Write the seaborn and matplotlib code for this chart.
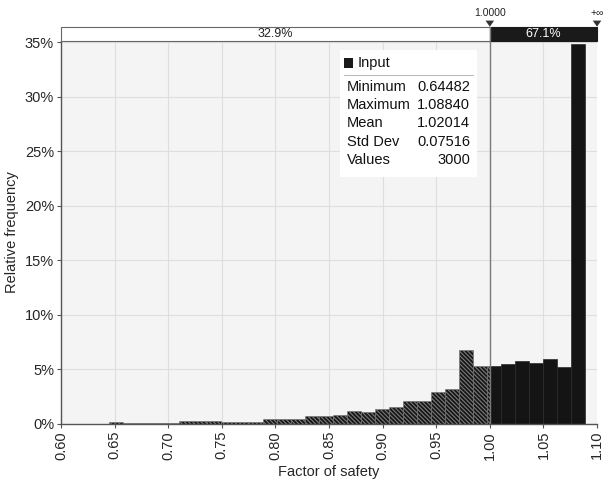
import numpy as np
import pandas as pd
import seaborn as sns
import matplotlib.pyplot as plt
from matplotlib.patches import Rectangle, Polygon
from matplotlib.ticker import PercentFormatter, MultipleLocator
import matplotlib.transforms as mtransforms

# Summary statistics of the simulated factor of safety
stat_names = ["Minimum", "Maximum", "Mean", "Std Dev", "Values"]
stat_values = ["0.64482", "1.08840", "1.02014", "0.07516", "3000"]
x_min, x_max = 0.64482, 1.08840
n_bins = 34
threshold = 1.0
share_labels = ["32.9%", "67.1%"]

# Relative frequency (%) of each histogram bin, low to high
rel_freq = [0.18, 0.09, 0.09, 0.09, 0.12, 0.31, 0.25, 0.25, 0.22, 0.15,
            0.15, 0.43, 0.43, 0.49, 0.73, 0.73, 0.82, 1.19, 1.13, 1.37,
            1.56, 2.14, 2.08, 2.93, 3.21, 6.75, 5.32, 5.30, 5.53, 5.81,
            5.59, 5.93, 5.26, 34.84]

x_ticks = [0.60, 0.65, 0.70, 0.75, 0.80, 0.85, 0.90, 0.95, 1.00, 1.05, 1.10]

# Bin edges, with the bin containing the threshold split in two
edges = np.linspace(x_min, x_max, n_bins + 1)
rows = []
for lo, hi, h in zip(edges[:-1], edges[1:], rel_freq):
    if lo < threshold < hi:
        rows.append((lo, threshold, h))
        rows.append((threshold, hi, h))
    else:
        rows.append((lo, hi, h))
bins = pd.DataFrame(rows, columns=["lo", "hi", "freq"])
bins["mid"] = (bins["lo"] + bins["hi"]) / 2
below = bins[bins["hi"] <= threshold]
above = bins[bins["lo"] >= threshold]

sns.set_style("white")
plt.rcParams["font.family"] = ["Liberation Sans", "DejaVu Sans"]
plt.rcParams["hatch.linewidth"] = 0.8

fig = plt.figure(figsize=(6.06, 4.83), dpi=100)
ax = fig.add_axes([0.1007, 0.1222, 0.8845, 0.7935])
ax.set_facecolor("#f4f4f4")

sns.histplot(x=below["mid"], weights=below["freq"],
             bins=list(below["lo"]) + [below["hi"].iloc[-1]],
             stat="count", ax=ax, color="#161616", alpha=1,
             edgecolor="#7c7c7c", linewidth=0.4, hatch="\\" * 8)
sns.histplot(x=above["mid"], weights=above["freq"],
             bins=list(above["lo"]) + [above["hi"].iloc[-1]],
             stat="count", ax=ax, color="#141414", alpha=1,
             edgecolor="#2a2a2a", linewidth=0.5)

ax.set_xlim(0.60, 1.10)
ax.set_ylim(0, 35.15)
ax.set_xticks(x_ticks)
ax.set_xticklabels([f"{t:.2f}" for t in x_ticks], rotation=90, fontsize=10.5)
ax.yaxis.set_major_locator(MultipleLocator(5))
ax.yaxis.set_major_formatter(PercentFormatter(xmax=100, decimals=0))
ax.tick_params(axis="y", labelsize=10.5)
ax.tick_params(axis="both", direction="out", length=3, width=0.8,
               color="#555555", bottom=True, left=True, pad=2)
ax.grid(True, color="#dedede", linewidth=0.8)
ax.set_axisbelow(True)
for side in ["top", "right"]:
    ax.spines[side].set_visible(False)
for side in ["left", "bottom"]:
    ax.spines[side].set_color("#555555")
    ax.spines[side].set_linewidth(1.0)

ax.set_xlabel("Factor of safety", fontsize=10.5, labelpad=4)
ax.set_ylabel("Relative frequency", fontsize=10.5, labelpad=4)

# Threshold marker line
ax.axvline(threshold, color="#7a7a7a", linewidth=1.0, zorder=5)

# Probability band above the plot
trans = mtransforms.blended_transform_factory(ax.transData, ax.transAxes)
band_lo, band_hi = 1.0, 1.0365
ax.add_patch(Rectangle((0.60, band_lo), threshold - 0.60, band_hi - band_lo,
                       transform=trans, facecolor="white", edgecolor="#666666",
                       linewidth=0.8, clip_on=False, zorder=6))
ax.add_patch(Rectangle((threshold, band_lo), 1.10 - threshold, band_hi - band_lo,
                       transform=trans, facecolor="#1a1a1a", edgecolor="#1a1a1a",
                       linewidth=0.8, clip_on=False, zorder=6))
ax.text((0.60 + threshold) / 2, (band_lo + band_hi) / 2, share_labels[0],
        transform=trans, ha="center", va="center", fontsize=9,
        color="#222222", zorder=7, clip_on=False)
ax.text((threshold + 1.10) / 2, (band_lo + band_hi) / 2, share_labels[1],
        transform=trans, ha="center", va="center", fontsize=9,
        color="white", zorder=7, clip_on=False)
ax.plot([threshold, threshold], [1.0, band_hi], transform=trans,
        color="#7a7a7a", linewidth=1.0, clip_on=False, zorder=8)
for xm in (threshold, 1.10):
    ax.add_patch(Polygon([(xm - 0.004, band_hi + 0.016), (xm + 0.004, band_hi + 0.016),
                          (xm, band_hi)], closed=True, transform=trans,
                         facecolor="#333333", edgecolor="none",
                         clip_on=False, zorder=8))
ax.text(threshold, band_hi + 0.035, f"{threshold:.4f}", transform=trans,
        ha="center", va="center", fontsize=7.5, color="#222222", clip_on=False)
ax.text(1.10, band_hi + 0.035, "+\u221e", transform=trans,
        ha="center", va="center", fontsize=7.5, color="#222222", clip_on=False)

# Statistics legend box
bx0, bx1, by0, by1 = 0.5205, 0.776, 0.644, 0.976
ax.add_patch(Rectangle((bx0, by0), bx1 - bx0, by1 - by0, transform=ax.transAxes,
                       facecolor="white", edgecolor="none", zorder=9))
ax.add_patch(Rectangle((0.528, 0.929), 0.017, 0.026, transform=ax.transAxes,
                       facecolor="#1a1a1a", edgecolor="none", zorder=10))
ax.text(0.553, 0.942, "Input", transform=ax.transAxes, ha="left", va="center",
        fontsize=10.5, color="#111111", zorder=10)
ax.plot([0.528, 0.768], [0.9105, 0.9105], transform=ax.transAxes,
        color="#bbbbbb", linewidth=0.8, zorder=10)
row_y = [0.880, 0.832, 0.785, 0.737, 0.689]
for yy, name, val in zip(row_y, stat_names, stat_values):
    ax.text(0.533, yy, name, transform=ax.transAxes, ha="left", va="center",
            fontsize=10.5, color="#111111", zorder=10)
    ax.text(0.763, yy, val, transform=ax.transAxes, ha="right", va="center",
            fontsize=10.5, color="#111111", zorder=10)

fig.savefig("out.png", dpi=100)
